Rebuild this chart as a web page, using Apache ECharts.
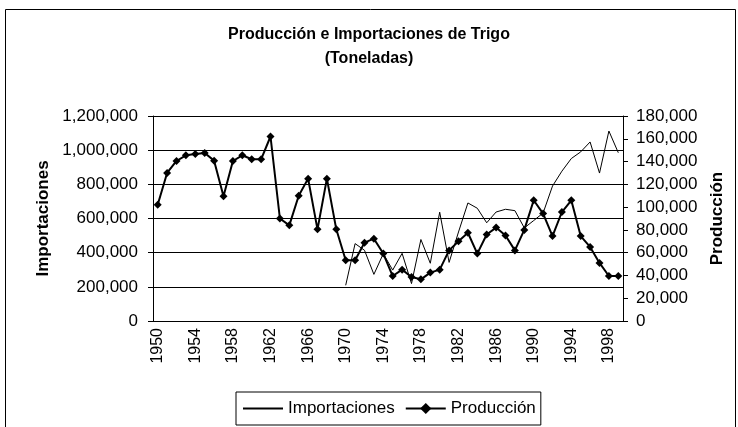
<!DOCTYPE html>
<html>
<head>
<meta charset="utf-8">
<script src="https://cdn.jsdelivr.net/npm/echarts@6/dist/echarts.min.js"></script>
<style>
  html, body { margin: 0; padding: 0; background: #fff; }
  #chart { width: 738px; height: 427px; }
</style>
</head>
<body>
<div id="chart"></div>
<script>
// años 1950-1999
var years = [];
for (var y = 1950; y <= 1999; y++) years.push(String(y));

// Producción (toneladas), eje derecho
var produccion = [
  102000, 130000, 140500, 145500, 146600, 147500, 140800, 109500, 140500, 145500,
  142000, 142000, 162000, 90000, 84000, 110000, 125000, 80500, 125000, 80500,
  53300, 53300, 68800, 72300, 59200, 39500, 45100, 38600, 36600, 42500,
  45100, 62000, 70000, 77500, 59200, 76000, 82000, 75000, 62000, 80000,
  106000, 94300, 74600, 95700, 106000, 74600, 65000, 51000, 39500, 39500
];

// Importaciones (toneladas), eje izquierdo; sin datos antes de 1970
var importaciones = [
  null, null, null, null, null, null, null, null, null, null,
  null, null, null, null, null, null, null, null, null, null,
  209000, 453000, 414000, 273000, 394000, 298000, 396000, 219000, 477000, 338000,
  637000, 343000, 521000, 691000, 660000, 575000, 638000, 654000, 646000, 545000,
  588000, 632000, 790000, 877000, 951000, 990000, 1048000, 866000, 1112000, 985000
];

var fontFam = "'Liberation Sans', Arial, sans-serif";

function miles(v) {
  return String(v).replace(/\B(?=(\d{3})+(?!\d))/g, ',');
}

var chart = echarts.init(document.getElementById('chart'));
chart.setOption({
  backgroundColor: '#fff',
  animation: false,
  textStyle: { fontFamily: fontFam, color: '#000' },
  title: {
    text: 'Producción e Importaciones de Trigo\n(Toneladas)',
    left: 'center',
    top: 18,
    textStyle: { fontFamily: fontFam, fontSize: 16, fontWeight: 'bold', color: '#000', lineHeight: 24 }
  },
  graphic: [{
    type: 'rect',
    shape: { x: 5.5, y: 9.5, width: 730, height: 440 },
    style: { fill: null, stroke: '#000', lineWidth: 1 },
    silent: true
  }],
  grid: { left: 153, right: 115, top: 116, bottom: 106 },
  legend: {
    bottom: 2,
    left: 236,
    itemWidth: 40,
    itemGap: 10,
    borderColor: '#000',
    borderWidth: 1,
    borderRadius: 0,
    padding: [8, 5, 8, 6],
    textStyle: { fontFamily: fontFam, fontSize: 17, color: '#000' },
    data: [
      { name: 'Importaciones', itemStyle: { opacity: 0 } },
      { name: 'Producción' }
    ]
  },
  xAxis: {
    type: 'category',
    data: years,
    boundaryGap: true,
    axisLine: { lineStyle: { color: '#000' } },
    axisTick: { interval: 0, length: 5, lineStyle: { color: '#000' } },
    axisLabel: { interval: 3, rotate: 90, fontSize: 16, color: '#000', fontFamily: fontFam, margin: 7 }
  },
  yAxis: [{
    type: 'value',
    min: 0,
    max: 1200000,
    interval: 200000,
    name: 'Importaciones',
    nameLocation: 'middle',
    nameRotate: 90,
    nameGap: 101,
    nameTextStyle: { fontFamily: fontFam, fontSize: 17, fontWeight: 'bold', color: '#000' },
    axisLine: { show: true, lineStyle: { color: '#000' } },
    axisTick: { show: true, length: 5, lineStyle: { color: '#000' } },
    axisLabel: { fontSize: 17, color: '#000', fontFamily: fontFam, margin: 15, formatter: miles },
    splitLine: { show: true, lineStyle: { color: '#000', width: 1 } }
  }, {
    type: 'value',
    min: 0,
    max: 180000,
    interval: 20000,
    position: 'right',
    name: 'Producción',
    nameLocation: 'middle',
    nameRotate: 90,
    nameGap: 86,
    nameTextStyle: { fontFamily: fontFam, fontSize: 17, fontWeight: 'bold', color: '#000' },
    axisLine: { show: true, lineStyle: { color: '#000' } },
    axisTick: { show: true, length: 5, lineStyle: { color: '#000' } },
    axisLabel: { fontSize: 17, color: '#000', fontFamily: fontFam, margin: 13, formatter: miles },
    splitLine: { show: false }
  }],
  series: [{
    name: 'Importaciones',
    type: 'line',
    yAxisIndex: 0,
    data: importaciones,
    symbol: 'none',
    connectNulls: false,
    itemStyle: { color: '#000' },
    lineStyle: { color: '#000', width: 1 }
  }, {
    name: 'Producción',
    type: 'line',
    yAxisIndex: 1,
    data: produccion,
    symbol: 'diamond',
    symbolSize: 8,
    showAllSymbol: true,
    itemStyle: { color: '#000' },
    lineStyle: { color: '#000', width: 2 }
  }]
});
</script>
</body>
</html>
